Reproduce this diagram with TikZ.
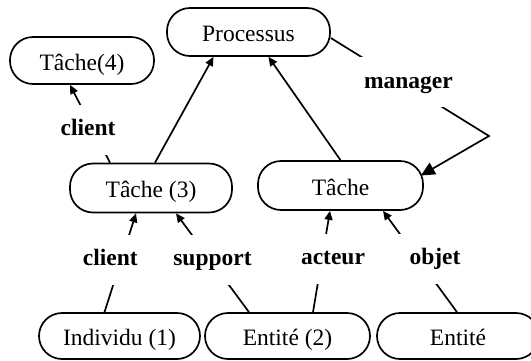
\documentclass[tikz,border=0pt]{standalone}
\usepackage{fontspec}
\setmainfont{Liberation Serif}
\usetikzlibrary{arrows.meta,positioning}

\begin{document}
\begin{tikzpicture}[line width=1.7pt,>={Triangle[length=9pt,width=8pt]},
  task/.style={draw,rectangle,rounded corners=23pt,minimum height=48pt,minimum width=162pt,inner sep=0pt,text height=20pt,text depth=1pt,font=\fontsize{23.5}{28}\selectfont},
  role/.style={fill=white,font=\fontsize{23.5}{28}\selectfont\bfseries,inner xsep=6pt,inner ysep=0pt,text height=17pt,text depth=5pt,minimum height=50pt}]
  \useasboundingbox (0pt,0pt) rectangle (531pt,-360pt);
  \draw (248.5pt, -32.0pt)node[task,minimum width=163pt](proc){Processus};
  \draw (82.0pt, -60.5pt)node[task,minimum width=144pt,minimum height=47pt](t4){Tâche(4)};
  \draw (151.0pt, -188.0pt)node[task,minimum height=49pt](t3){Tâche (3)};
  \draw (340.5pt, -185.5pt)node[task,minimum width=165pt,minimum height=49pt](tache){Tâche};
  \draw (119.5pt, -336.0pt)node[task,minimum width=161pt,minimum height=46pt](ind){Individu (1)};
  \draw (287.5pt, -336.0pt)node[task,minimum width=165pt,minimum height=46pt](ent2){Entité (2)};
  \draw (458.0pt, -336.0pt)node[task,minimum height=46pt](ent){Entité};
  \coordinate (bend) at (489pt, -136pt);
  \path[->] ([xshift=4pt]t3.north) edge ([xshift=-35pt]proc.south);
  \path[->] (tache.north) edge ([xshift=20pt]proc.south);
  \path[->] ([xshift=-41pt]t3.north) edge node[role,xshift=-2pt,yshift=-6pt]{client} ([xshift=-12pt]t4.south);
  \path[->] ([xshift=-15pt]ind.north) edge node[role,xshift=-10pt,yshift=3pt]{client} ([xshift=-15pt]t3.south);
  \path[->] ([xshift=-38.5pt]ent2.north) edge node[role,yshift=3pt]{support} ([xshift=25pt]t3.south);
  \path[->] ([xshift=25.5pt]ent2.north) edge node[role,xshift=11.5pt,yshift=3pt]{acteur} ([xshift=-10.5pt]tache.south);
  \path[->] ([xshift=-1pt]ent.north) edge node[role,xshift=15pt,yshift=3pt,minimum width=75pt]{objet} ([xshift=42.5pt]tache.south);
  \draw[->,>={Triangle[length=14pt,width=13pt]}] ([yshift=-6pt]proc.east) -- node[role,xshift=-1.5pt,yshift=5pt]{manager} (bend) -- ([shift={(-3pt,10pt)}]tache.east);
\end{tikzpicture}
\end{document}
